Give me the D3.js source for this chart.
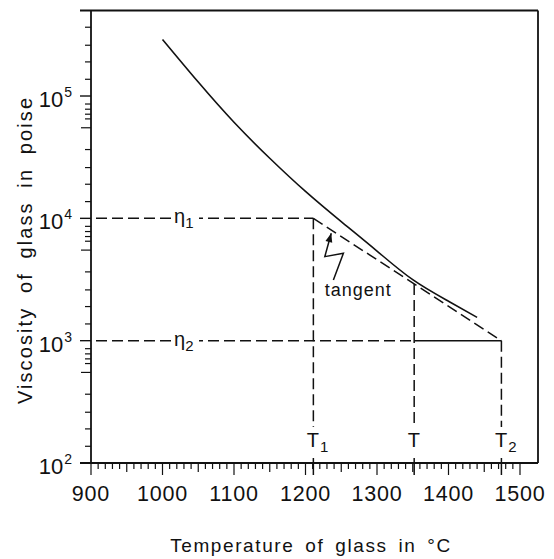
<!DOCTYPE html>
<html>
<head>
<meta charset="utf-8">
<script src="https://cdn.jsdelivr.net/npm/d3@7"></script>
<style>
  body { margin: 0; background: #fff; }
  text { font-family: "Liberation Sans", Arial, sans-serif; fill: #111; }
</style>
</head>
<body>
<div id="chart"></div>
<script>
// viscosity curve
const temps = [1000, 1050, 1100, 1150, 1200, 1250, 1300, 1350, 1400, 1440];
const viscosity = [2.9e5, 1.3e5, 6.1e4, 3.1e4, 1.66e4, 9.4e3, 5.4e3, 3.15e3, 2.1e3, 1.55e3];

// construction lines
const etaValues = [1e4, 1e3];
const etaSubs = ["1", "2"];
const tempValues = [1211, 1352, 1474];   // T1, T, T2
const tempSubs = ["1", "", "2"];

// ticks
const xTickLabels = [900, 1000, 1100, 1200, 1300, 1400, 1500];
const yDecades = [1e2, 1e3, 1e4, 1e5];
const yDecadeSups = ["2", "3", "4", "5"];
const yMinorMantissa = [1.37, 1.9, 2.6, 3.65, 5.5, 6.5, 7.1, 7.8, 8.6];

// "tangent" note: zigzag pointer (temperature, viscosity)
const arrowT = [1239, 1253, 1227, 1236];
const arrowV = [3130, 5180, 4860, 7550];
const noteT = 1227, noteV = 2320;

const width = 554, height = 559;
const svg = d3.select("#chart").append("svg")
    .attr("width", width)
    .attr("height", height);

const x = d3.scaleLinear().domain([900, 1500]).range([91, 520]);
const y = d3.scaleLog().domain([100, 5e5]).range([463, 10.5]);
const frameRight = 538;
const ink = "#111";

// frame
const frame = svg.append("g").attr("stroke", ink).attr("stroke-width", 1.8).attr("fill", "none");
frame.append("line").attr("x1", 80).attr("x2", frameRight).attr("y1", y(5e5)).attr("y2", y(5e5));
frame.append("line").attr("x1", 80).attr("x2", frameRight).attr("y1", y(100)).attr("y2", y(100));
frame.append("line").attr("x1", x(900)).attr("x2", x(900)).attr("y1", y(5e5)).attr("y2", y(100));
frame.append("line").attr("x1", frameRight).attr("x2", frameRight).attr("y1", y(5e5)).attr("y2", y(100));

// x ticks every 10 degrees
svg.append("g").attr("stroke", ink).attr("stroke-width", 1.2)
    .selectAll("line")
    .data(d3.range(900, 1501, 10))
    .join("line")
    .attr("x1", d => x(d)).attr("x2", d => x(d))
    .attr("y1", y(100))
    .attr("y2", d => y(100) + (d % 100 === 0 ? 12 : d % 50 === 0 ? 9 : 6));

svg.append("g")
    .selectAll("text")
    .data(xTickLabels)
    .join("text")
    .attr("x", d => x(d))
    .attr("y", 501)
    .attr("text-anchor", "middle")
    .attr("font-size", 21.5)
    .attr("letter-spacing", 0.8)
    .text(d => d);

// y ticks
const yMinor = [];
[1e2, 1e3, 1e4, 1e5].forEach(dec => {
    yMinorMantissa.forEach((m, i) => {
        const v = dec * m;
        if (v < 5e5) yMinor.push({v: v, long: i === 4});
    });
});

svg.append("g").attr("stroke", ink).attr("stroke-width", 1.2)
    .selectAll("line")
    .data(yMinor)
    .join("line")
    .attr("x1", d => x(900) - (d.long ? 10 : 6)).attr("x2", x(900))
    .attr("y1", d => y(d.v)).attr("y2", d => y(d.v));

svg.append("g").attr("stroke", ink).attr("stroke-width", 1.4)
    .selectAll("line")
    .data(yDecades)
    .join("line")
    .attr("x1", x(900) - 11).attr("x2", x(900))
    .attr("y1", d => y(d)).attr("y2", d => y(d));

const yLab = svg.append("g")
    .selectAll("text")
    .data(yDecades)
    .join("text")
    .attr("x", x(900) - 19)
    .attr("y", d => y(d) + 11)
    .attr("text-anchor", "end")
    .attr("font-size", 22);
yLab.append("tspan").text("10");
yLab.append("tspan")
    .attr("font-size", 14)
    .attr("dy", -10)
    .attr("dx", 1)
    .text((d, i) => yDecadeSups[i]);

// axis titles
svg.append("text")
    .attr("x", 311)
    .attr("y", 552)
    .attr("text-anchor", "middle")
    .attr("font-size", 19)
    .attr("letter-spacing", 1.6)
    .attr("word-spacing", 4)
    .text("Temperature of glass in °C");

svg.append("text")
    .attr("transform", "translate(32,250) rotate(-90)")
    .attr("text-anchor", "middle")
    .attr("font-size", 20)
    .attr("letter-spacing", 2.1)
    .attr("word-spacing", 6)
    .text("Viscosity of glass in poise");

// construction lines
const dash = "11,5";
const guides = svg.append("g")
    .attr("stroke", ink).attr("stroke-width", 1.5).attr("fill", "none");

// eta1 horizontal and eta2 horizontal
guides.append("line")
    .attr("x1", x(900) + 5).attr("x2", x(tempValues[0]))
    .attr("y1", y(etaValues[0])).attr("y2", y(etaValues[0]))
    .attr("stroke-dasharray", dash);
guides.append("line")
    .attr("x1", x(900) + 5).attr("x2", x(tempValues[1]))
    .attr("y1", y(etaValues[1])).attr("y2", y(etaValues[1]))
    .attr("stroke-dasharray", dash);
guides.append("line")
    .attr("x1", x(tempValues[1])).attr("x2", x(tempValues[2]))
    .attr("y1", y(etaValues[1])).attr("y2", y(etaValues[1]));

// tangent
guides.append("line")
    .attr("x1", x(tempValues[0])).attr("y1", y(etaValues[0]))
    .attr("x2", x(tempValues[2])).attr("y2", y(etaValues[1]))
    .attr("stroke-dasharray", dash);

// verticals
const tangentAt = t => Math.pow(10, 4 - (t - tempValues[0]) / (tempValues[2] - tempValues[0]));
const vTop = [etaValues[0], tangentAt(tempValues[1]), etaValues[1]];
guides.selectAll(".vert")
    .data(tempValues)
    .join("line")
    .attr("class", "vert")
    .attr("x1", d => x(d)).attr("x2", d => x(d))
    .attr("y1", (d, i) => y(vTop[i]))
    .attr("y2", y(100) - 36)
    .attr("stroke-dasharray", dash);
guides.selectAll(".vtick")
    .data(tempValues)
    .join("line")
    .attr("class", "vtick")
    .attr("x1", d => x(d)).attr("x2", d => x(d))
    .attr("y1", y(100) - 5).attr("y2", y(100) + 12);

// viscosity curve
const line = d3.line()
    .x((d, i) => x(temps[i]))
    .y(d => y(d))
    .curve(d3.curveNatural);
svg.append("path")
    .datum(viscosity)
    .attr("fill", "none")
    .attr("stroke", ink)
    .attr("stroke-width", 1.6)
    .attr("d", line);

// eta labels
etaValues.forEach((v, i) => {
    svg.append("rect")
        .attr("x", 172).attr("y", y(v) - 8)
        .attr("width", 27).attr("height", 16)
        .attr("fill", "#fff");
    const t = svg.append("text")
        .attr("x", 174).attr("y", y(v) + 5)
        .attr("font-size", 20);
    t.append("tspan").text("η");
    t.append("tspan").attr("font-size", 15).attr("dy", 5).text(etaSubs[i]);
});

// T labels
tempValues.forEach((tv, i) => {
    const t = svg.append("text")
        .attr("x", x(tv) - 6.5).attr("y", y(100) - 16)
        .attr("font-size", 20);
    t.append("tspan").text("T");
    if (tempSubs[i]) t.append("tspan").attr("font-size", 15).attr("dy", 5).attr("dx", 1).text(tempSubs[i]);
});

// tangent note with zigzag pointer
const pts = arrowT.map((t, i) => [x(t), y(arrowV[i])]);
svg.append("path")
    .attr("d", d3.line()(pts))
    .attr("fill", "none")
    .attr("stroke", ink)
    .attr("stroke-width", 1.5);
const tip = pts[pts.length - 1], prev = pts[pts.length - 2];
const ang = Math.atan2(tip[1] - prev[1], tip[0] - prev[0]) * 180 / Math.PI;
svg.append("path")
    .attr("d", "M0,0 L-9,-3.5 L-9,3.5 Z")
    .attr("transform", `translate(${tip[0]},${tip[1]}) rotate(${ang})`)
    .attr("fill", ink);
svg.append("text")
    .attr("x", x(noteT)).attr("y", y(noteV))
    .attr("font-size", 18)
    .attr("letter-spacing", 1)
    .text("tangent");
</script>
</body>
</html>
